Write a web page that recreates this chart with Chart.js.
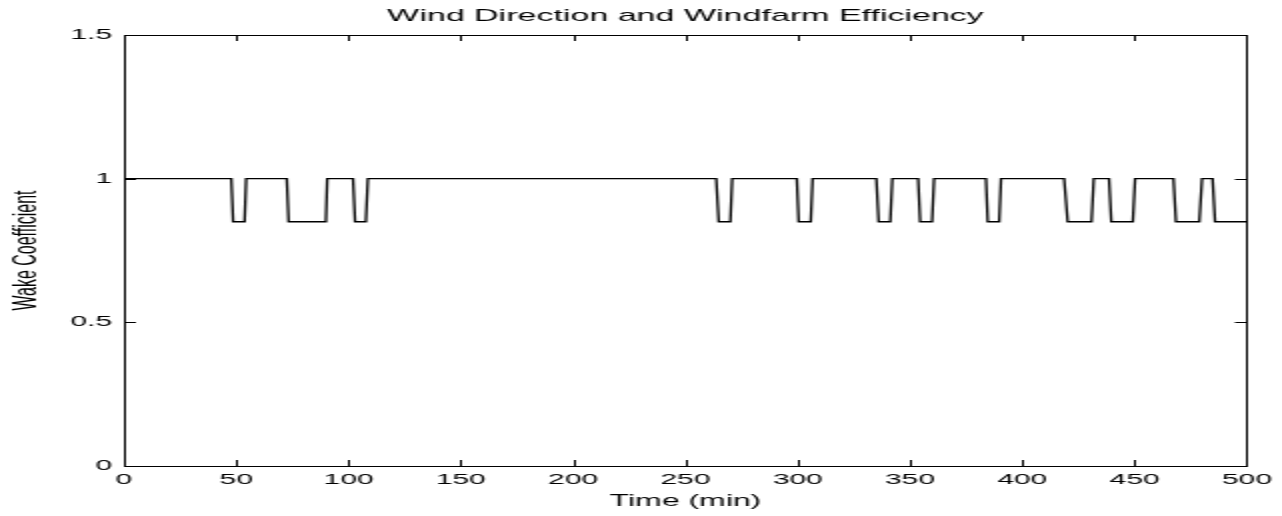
<!DOCTYPE html>
<html>
<head>
<meta charset="utf-8">
<script src="https://cdn.jsdelivr.net/npm/chart.js@4/dist/chart.umd.min.js"></script>
<style>
    html, body { margin: 0; padding: 0; background: #fff; overflow: hidden; }
    /* the reference is a figure stretched 2x sideways, so draw narrow and stretch */
    #wrap { width: 641px; height: 516px; transform: scaleX(2); transform-origin: 0 0; }
</style>
</head>
<body>
<div id="wrap"><canvas id="wakeChart" width="641" height="516"></canvas></div>
<script>
// time (min) of each corner of the wake coefficient trace
const times = [0,
    47.8, 48.6, 53.7, 54.4,
    72.5, 73.3, 89.9, 90.5,
    102.0, 102.9, 107.7, 108.6,
    263.7, 264.8, 270.0, 270.8,
    299.6, 300.4, 305.8, 306.6,
    335.0, 336.0, 341.2, 342.1,
    353.6, 354.5, 359.8, 360.7,
    383.8, 384.6, 389.7, 390.5,
    418.6, 420.2, 430.8, 431.8,
    438.6, 439.6, 449.2, 450.2,
    467.3, 468.4, 478.8, 480.0,
    484.7, 485.8, 500];
const wake = [1,
    1, 0.85, 0.85, 1,
    1, 0.85, 0.85, 1,
    1, 0.85, 0.85, 1,
    1, 0.85, 0.85, 1,
    1, 0.85, 0.85, 1,
    1, 0.85, 0.85, 1,
    1, 0.85, 0.85, 1,
    1, 0.85, 0.85, 1,
    1, 0.85, 0.85, 1,
    1, 0.85, 0.85, 1,
    1, 0.85, 0.85, 1,
    1, 0.85, 0.85];
const xTicks = [0, 50, 100, 150, 200, 250, 300, 350, 400, 450, 500];
const yTicks = [0, 0.5, 1, 1.5];

const FONT = '"Liberation Sans", Arial, Helvetica, sans-serif';

// matlab style box with inward ticks on all four sides
const boxTicks = {
    id: 'boxTicks',
    afterDraw(chart) {
        const { ctx, chartArea: a, scales } = chart;
        const len = 6;
        ctx.save();
        ctx.strokeStyle = '#000';
        ctx.lineWidth = 1;
        ctx.beginPath();
        xTicks.forEach(v => {
            const px = Math.round(scales.x.getPixelForValue(v)) + 0.5;
            ctx.moveTo(px, a.bottom); ctx.lineTo(px, a.bottom - len);
            ctx.moveTo(px, a.top); ctx.lineTo(px, a.top + len);
        });
        yTicks.forEach(v => {
            const py = Math.round(scales.y.getPixelForValue(v)) + 0.5;
            ctx.moveTo(a.left, py); ctx.lineTo(a.left + len, py);
            ctx.moveTo(a.right, py); ctx.lineTo(a.right - len, py);
        });
        ctx.stroke();
        ctx.strokeRect(Math.round(a.left) + 0.5, Math.round(a.top) + 0.5,
            Math.round(a.right - a.left), Math.round(a.bottom - a.top));
        ctx.restore();
    }
};

const ctx = document.getElementById('wakeChart').getContext('2d');
const wakeChart = new Chart(ctx, {
    type: 'line',
    data: {
        datasets: [{
            data: times.map((t, i) => ({ x: t, y: wake[i] })),
            borderColor: '#000',
            borderWidth: 1.3,
            pointRadius: 0,
            tension: 0,
            fill: false
        }]
    },
    options: {
        responsive: false,
        animation: false,
        devicePixelRatio: 1,
        layout: { padding: { left: 0, right: 15.5, top: 0, bottom: 0 } },
        plugins: {
            legend: { display: false },
            tooltip: { enabled: false },
            title: {
                display: true,
                fullSize: false,   // centre over the plot box, not the canvas
                text: 'Wind Direction and Windfarm Efficiency',
                color: '#000',
                font: { family: FONT, size: 17, weight: 'normal' },
                padding: { top: 6, bottom: 8.6 }
            }
        },
        scales: {
            x: {
                type: 'linear',
                min: 0,
                max: 500,
                afterBuildTicks: s => { s.ticks = xTicks.map(v => ({ value: v })); },
                afterFit: s => { s.height = 50; },
                grid: { display: false, drawTicks: false },
                border: { display: false },
                ticks: { color: '#000', padding: 5, maxRotation: 0, font: { family: FONT, size: 15 } },
                title: {
                    display: true,
                    text: 'Time (min)',
                    color: '#000',
                    font: { family: FONT, size: 16 },
                    padding: { top: 0, bottom: 5 }
                }
            },
            y: {
                min: 0,
                max: 1.5,
                afterBuildTicks: s => { s.ticks = yTicks.map(v => ({ value: v })); },
                afterFit: s => { s.width = 62; },
                grid: { display: false, drawTicks: false },
                border: { display: false },
                ticks: { color: '#000', padding: 6, font: { family: FONT, size: 15 }, callback: v => String(v) },
                title: {
                    display: true,
                    text: 'Wake Coefficient',
                    color: '#000',
                    font: { family: FONT, size: 16 },
                    padding: { top: 4, bottom: 0 }
                }
            }
        }
    },
    plugins: [boxTicks]
});
</script>
</body>
</html>
